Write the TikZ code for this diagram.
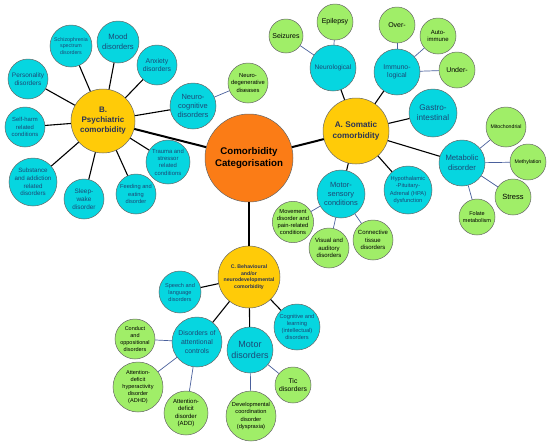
\documentclass[tikz,border=0pt]{standalone}
\usepackage{fontspec}
\setmainfont{Liberation Sans}
\usetikzlibrary{shapes.geometric}

\definecolor{hubfill}{RGB}{251,124,22}
\definecolor{catfill}{RGB}{255,203,8}
\definecolor{subfill}{RGB}{6,214,224}
\definecolor{leaffill}{RGB}{160,238,104}
\definecolor{subtext}{RGB}{28,72,118}
\definecolor{cattext}{RGB}{44,52,84}
\definecolor{twigline}{RGB}{74,96,156}

\newcommand\fsz[1]{\fontsize{#1}{\fpeval{#1*1.25}}\selectfont}

\tikzset{
  blob/.style={circle, draw=black!60, line width=0.5pt, inner sep=0pt, align=center, minimum size=#1pt},
  hub/.style={blob=#1, fill=hubfill, text=black, font=\fsz{9.7}\bfseries},
  cat/.style={blob=#1, fill=catfill, text=cattext},
  sub/.style={blob=#1, fill=subfill, text=subtext},
  leaf/.style={blob=#1, fill=leaffill, text=black},
  fs/.style={font=\fsz{#1}},
  fsb/.style={font=\fsz{#1}\bfseries},
  trunk/.style={black, line width=2pt},
  link/.style={black, line width=1.1pt},
  twig/.style={twigline, line width=0.7pt}
}

\begin{document}
\begin{tikzpicture}[x=1pt, y=-1pt]
\useasboundingbox (0,0) rectangle (550,448);

  % centre and the three categories
  \node[hub=88] (hub) at (249,158) {Comorbidity\\Categorisation};
  \node[cat=64, fsb=8] (psych) at (103,121) {B.\\Psychiatric\\comorbidity};
  \node[cat=66, fsb=8.2] (soma) at (356,131) {A. Somatic\\comorbidity};
  \node[cat=62, fsb=5.2] (behav) at (249,277) {C. Behavioural\\and/or\\neurodevelopmental\\comorbidity};

  \draw[trunk] (hub) -- (psych);
  \draw[trunk] (hub) -- (soma);
  \draw[trunk] (hub) -- (behav);

  % B. psychiatric
  \node[sub=42, fs=5.3] (schizo) at (71,46) {Schizophrenia\\spectrum\\disorders};
  \node[sub=42, fs=7.7] (mood) at (118,42) {Mood\\disorders};
  \node[sub=40, fs=6.9] (anxiety) at (157,65) {Anxiety\\disorders};
  \node[sub=40, fs=6.5] (person) at (28,79) {Personality\\disorders};
  \node[sub=46, fs=7.5] (neurocog) at (193,106) {Neuro-\\cognitive\\disorders};
  \node[sub=40, fs=5.9] (selfharm) at (25,127) {Self-harm\\related\\conditions};
  \node[sub=48, fs=6.2] (substance) at (33,182) {Substance\\and addiction\\related\\disorders};
  \node[sub=40, fs=6.4] (sleep) at (84,199) {Sleep-\\wake\\disorder};
  \node[sub=40, fs=5.7] (feeding) at (136,194) {Feeding and\\eating\\disorder};
  \node[sub=44, fs=5.9] (trauma) at (168,162) {Trauma and\\stressor\\related\\conditions};
  \node[leaf=40, fs=5.8] (neurodeg) at (248,83) {Neuro-\\degenerative\\diseases};

  \foreach \k in {schizo,mood,anxiety,person,neurocog,selfharm,substance,sleep,feeding,trauma}
    \draw[link] (psych) -- (\k);
  \draw[twig] (neurocog) -- (neurodeg);

  % A. somatic
  \node[sub=46, fs=6.6] (neuro) at (333,68) {Neurological};
  \node[leaf=34, fs=7] (seizures) at (286,36) {Seizures};
  \node[leaf=36, fs=7] (epilepsy) at (335,22) {Epilepsy};
  \node[sub=46, fs=6.9] (immuno) at (397,72) {Immuno-\\logical};
  \node[leaf=36, fs=7] (over) at (397,25) {Over-};
  \node[leaf=36, fs=6] (auto) at (438,36) {Auto-\\immune};
  \node[leaf=36, fs=7] (under) at (457,70) {Under-};
  \node[sub=48, fs=8.2] (gastro) at (433,113) {Gastro-\\intestinal};
  \node[sub=46, fs=7.7] (metab) at (462,163) {Metabolic\\disorder};
  \node[leaf=40, fs=5.2] (mito) at (506,127) {Mitochondrial};
  \node[leaf=36, fs=5.2] (methyl) at (528,162) {Methylation};
  \node[leaf=36, fs=7.5] (stress) at (513,197) {Stress};
  \node[leaf=36, fs=5.5] (folate) at (477,217) {Folate\\metabolism};
  \node[sub=48, fs=5.7] (hpa) at (408,190) {Hypothalamic\\-Pituitary-\\Adrenal (HPA)\\dysfunction};
  \node[sub=48, fs=7.5] (motsens) at (341,194) {Motor-\\sensory\\conditions};
  \node[leaf=40, fs=5.8] (movement) at (293,222) {Movement\\disorder and\\pain-related\\conditions};
  \node[leaf=40, fs=6] (visual) at (329,248) {Visual and\\auditory\\disorders};
  \node[leaf=40, fs=6] (connect) at (373,240) {Connective\\tissue\\disorders};

  \foreach \k in {neuro,immuno,gastro,metab,hpa,motsens}
    \draw[link] (soma) -- (\k);
  \foreach \k in {seizures,epilepsy}
    \draw[twig] (neuro) -- (\k);
  \foreach \k in {over,auto,under}
    \draw[twig] (immuno) -- (\k);
  \foreach \k in {mito,methyl,stress,folate}
    \draw[twig] (metab) -- (\k);
  \foreach \k in {movement,visual,connect}
    \draw[twig] (motsens) -- (\k);

  % C. behavioural / neurodevelopmental
  \node[sub=42, fs=5.6] (speech) at (180,292) {Speech and\\language\\disorders};
  \node[sub=50, fs=6.9] (attn) at (197,342) {Disorders of\\attentional\\controls};
  \node[sub=46, fs=9] (motor) at (250,350) {Motor\\disorders};
  \node[sub=46, fs=5.7] (cognit) at (297,327) {Cognitive and\\learning\\(intellectual)\\disorders};
  \node[leaf=40, fs=5.5] (conduct) at (135,339) {Conduct\\and\\oppositional\\disorders};
  \node[leaf=50, fs=5.6] (adhd) at (138,387) {Attention-\\deficit\\hyperactivity\\disorder\\(ADHD)};
  \node[leaf=44, fs=6] (add) at (186,413) {Attention-\\deficit\\disorder\\(ADD)};
  \node[leaf=50, fs=5.7] (dcd) at (251,416) {Developmental\\coordination\\disorder\\(dyspraxia)};
  \node[leaf=36, fs=6.8] (tic) at (293,385) {Tic\\disorders};

  \foreach \k in {speech,attn,motor,cognit}
    \draw[link] (behav) -- (\k);
  \foreach \k in {conduct,adhd,add}
    \draw[twig] (attn) -- (\k);
  \foreach \k in {dcd,tic}
    \draw[twig] (motor) -- (\k);

\end{tikzpicture}
\end{document}
